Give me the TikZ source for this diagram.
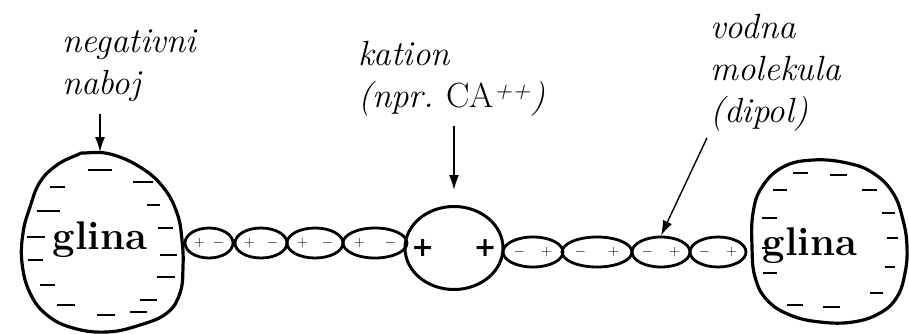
\documentclass[tikz,border=0pt]{standalone}
\usepackage{amssymb,amsmath}
\usepackage{fontspec}
\usepackage{tikz}
\usetikzlibrary{shapes.geometric, arrows.meta, positioning}

\newfontfamily\debelo{DejaVu Sans}

\begin{document}
\begin{tikzpicture}[x=1pt,y=-1pt]
	\tikzset{
		opis/.style={align=left, inner sep=0pt, font=\fontsize{35}{42}\selectfont\itshape},
		obris/.style={draw, line width=3.2pt},
		kreska/.style={line width=2.6pt},
		dipol/.style={ellipse, draw, line width=2.8pt, minimum height=30pt, inner sep=0pt,
		font=\fontsize{15}{15}\selectfont},
		kation/.style={ellipse, draw, line width=3pt, minimum width=98pt, minimum height=83pt,
		inner sep=0pt, font=\debelo\bfseries\fontsize{27}{27}\selectfont},
		glina/.style={inner sep=0pt, font=\fontsize{40}{40}\selectfont\bfseries},
		puscica/.style={-{Latex[length=15pt,width=10pt]}, line width=1.4pt}
	}
	\useasboundingbox (0,0) rectangle (909,334);

	% glina levo in desno
	\draw[obris] plot[smooth cycle, tension=0.7] coordinates {(85,153) (110,154) (140,167) (163,187)
		(177,213) (182,240) (183,267) (180,293) (167,313) (140,325) (107,332) (73,328) (47,315)
		(30,293) (22,263) (23,233) (30,207) (40,182) (57,165) (77,155)};
	\draw[obris] plot[smooth cycle, tension=0.7] coordinates {(783,167) (813,160) (847,163) (873,173)
		(893,193) (903,220) (907,247) (905,273) (897,297) (880,313) (853,322) (820,322) (790,315)
		(767,300) (755,277) (752,247) (753,213) (762,187)};
	\node[glina](glinaL) at (100,240) {glina};
	\node[glina](glinaR) at (810,246) {glina};
	\coordinate (vrhL) at (100,152);

	% negativni naboj na povrsini
	\draw[kreska] (88,170) -- (112,170) (133,182) -- (153,182) (50,187) -- (65,187)
		(147,205) -- (160,205) (37,211) -- (60,211) (158,228) -- (173,228) (27,237) -- (45,237)
		(160,255) -- (177,255) (28,260) -- (43,260) (157,277) -- (175,277) (40,285) -- (55,285)
		(140,300) -- (157,300) (57,305) -- (75,305) (97,315) -- (115,315) (130,312) -- (147,312);
	\draw[kreska] (793,173) -- (808,173) (830,175) -- (847,175) (862,190) -- (877,190)
		(773,190) -- (787,190) (882,213) -- (895,213) (762,218) -- (777,218) (887,238) -- (898,238)
		(762,248) -- (772,248) (885,267) -- (895,267) (763,273) -- (777,273) (870,293) -- (883,293)
		(787,305) -- (803,305) (823,307) -- (840,307);

	% vodne molekule in kation
	\node[dipol, minimum width=48pt](l1) at (209,243) {$+$\hspace{8pt}$-$};
	\node[dipol, minimum width=52pt](l2) at (261,243) {$+$\hspace{12pt}$-$};
	\node[dipol, minimum width=56pt](l3) at (315,243) {$+$\hspace{14pt}$-$};
	\node[dipol, minimum width=64pt](l4) at (375,243) {$+$\hspace{20pt}$-$};
	\node[kation](kat) at (454,248) {\makebox[20pt]{+\hspace{40pt}+}};
	\node[dipol, minimum width=60pt](d1) at (533,252) {$-$\hspace{16pt}$+$};
	\node[dipol, minimum width=70pt](d2) at (597,252) {$-$\hspace{22pt}$+$};
	\node[dipol, minimum width=58pt](d3) at (661,252) {$-$\hspace{16pt}$+$};
	\node[dipol, minimum width=56pt](d4) at (718,252) {$-$\hspace{16pt}$+$};

	% napisi
	\node[opis, anchor=north west](naboj) at (62,30) {negativni\\naboj};
	\node[opis, anchor=north west](kationopis) at (358,41) {kation\\(npr.\ {\upshape CA}\textsuperscript{++})};
	\node[opis, anchor=north west](voda) at (710,14) {vodna\\molekula\\(dipol)};

	\draw[puscica, shorten <=12pt](naboj.south -| vrhL) -- (vrhL);
	\draw[puscica, shorten <=10pt, shorten >=15pt](kationopis.south -| kat.north) -- (kat.north);
	\draw[puscica, shorten <=7pt](voda.south west) -- (d3.north);
\end{tikzpicture}
\end{document}
